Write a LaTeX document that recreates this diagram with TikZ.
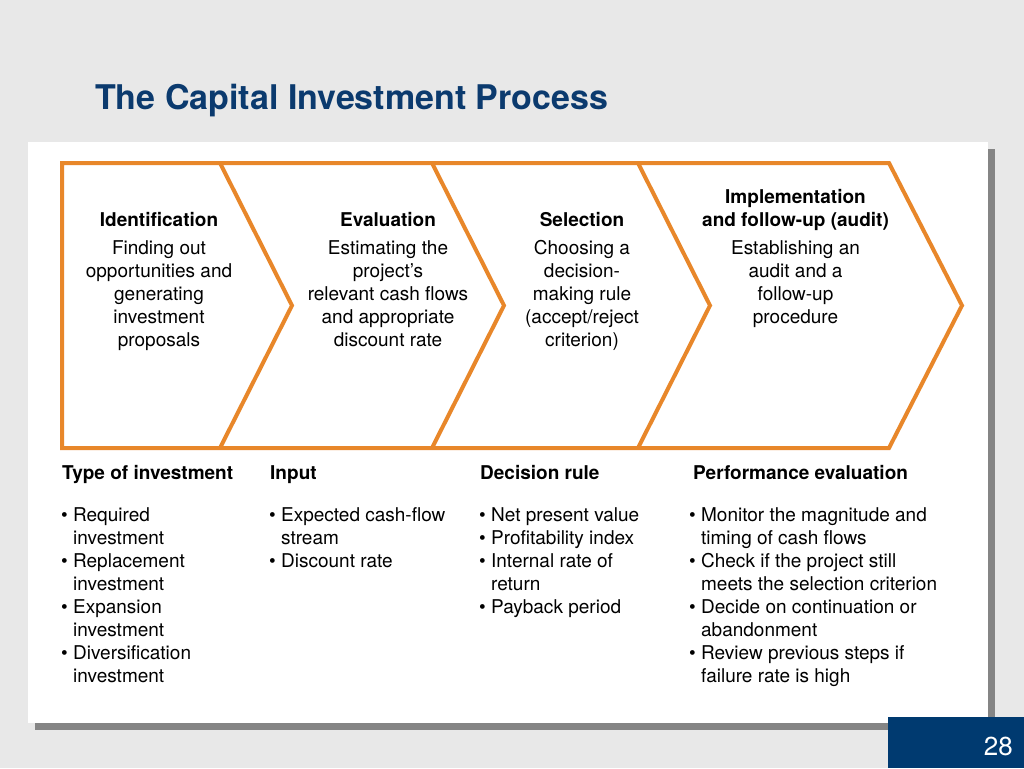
\documentclass[tikz,border=0pt]{standalone}
\usepackage{fontspec}
\setmainfont{TeX Gyre Heros}
\definecolor{bgray}{HTML}{E8E8E8}
\definecolor{shadowgray}{HTML}{858585}
\definecolor{titleblue}{HTML}{0B3A6E}
\definecolor{pageblue}{HTML}{003A70}
\definecolor{chevorange}{HTML}{E8872A}
\begin{document}
\begin{tikzpicture}[x=1pt,y=-1pt,
  chev/.style={draw=chevorange, line width=4pt, line join=miter},
  head/.style={font=\bfseries\fontsize{19}{23}\selectfont, inner sep=0pt, align=center},
  body/.style={font=\fontsize{19}{23}\selectfont, inner sep=0pt, align=center},
  list/.style={font=\fontsize{19}{23}\selectfont, inner sep=0pt, align=left},
  titletext/.style={font=\bfseries\fontsize{34}{40}\selectfont, text=titleblue, inner sep=0pt}]
\useasboundingbox (0,0) rectangle (1024,768);
\fill[bgray] (0,0) rectangle (1024,768);
\fill[shadowgray] (35,149) rectangle (995,730);
\fill[white] (28,142) rectangle (988,723);
\fill[pageblue] (888,717) rectangle (1024,768);
\node[anchor=base east, text=white, font=\fontsize{26}{26}\selectfont, inner sep=0pt] (pagenum) at (1013,755) {28};
\node[titletext, anchor=base west] (title) at (95,109) {The Capital Investment Process};
% chevrons
\draw[chev] (62,163) -- (889,163) -- (962,305.5) -- (889,448) -- (62,448) -- cycle;
\draw[chev] (220,163) -- (292,305.5) -- (220,448);
\draw[chev] (432,163) -- (504,305.5) -- (432,448);
\draw[chev] (638,163) -- (710,305.5) -- (638,448);
% step texts (anchor base = baseline of the last line)
\node[head, anchor=base] (h1) at (159,226) {Identification};
\node[body, anchor=base] (b1) at (159,346) {Finding out\\opportunities and\\generating\\investment\\proposals};
\node[head, anchor=base] (h2) at (388,226) {Evaluation};
\node[body, anchor=base] (b2) at (388,346) {Estimating the\\project's\\relevant cash flows\\and appropriate\\discount rate};
\node[head, anchor=base] (h3) at (582,226) {Selection};
\node[body, anchor=base] (b3) at (582,346) {Choosing a\\decision-\\making rule\\(accept/reject\\criterion)};
\node[head, anchor=base] (h4) at (795.5,226) {Implementation\\and follow-up (audit)};
\node[body, anchor=base] (b4) at (795.5,323) {Establishing an\\audit and a\\follow-up\\procedure};
% lower headings
\node[head, anchor=base west] (l1) at (62,479) {Type of investment};
\node[head, anchor=base west] (l2) at (270,479) {Input};
\node[head, anchor=base west] (l3) at (480,479) {Decision rule};
\node[head, anchor=base west] (l4) at (693,479) {Performance evaluation};
% lists
\node[list, anchor=base west] (c1) at (61,682) {•\ Required\\\phantom{•\ }investment\\•\ Replacement\\\phantom{•\ }investment\\•\ Expansion\\\phantom{•\ }investment\\•\ Diversification\\\phantom{•\ }investment};
\node[list, anchor=base west] (c2) at (269,567) {•\ Expected cash-flow\\\phantom{•\ }stream\\•\ Discount rate};
\node[list, anchor=base west] (c3) at (479,613) {•\ Net present value\\•\ Profitability index\\•\ Internal rate of\\\phantom{•\ }return\\•\ Payback period};
\node[list, anchor=base west] (c4) at (689,682) {•\ Monitor the magnitude and\\\phantom{•\ }timing of cash flows\\•\ Check if the project still\\\phantom{•\ }meets the selection criterion\\•\ Decide on continuation or\\\phantom{•\ }abandonment\\•\ Review previous steps if\\\phantom{•\ }failure rate is high};
\end{tikzpicture}
\end{document}
